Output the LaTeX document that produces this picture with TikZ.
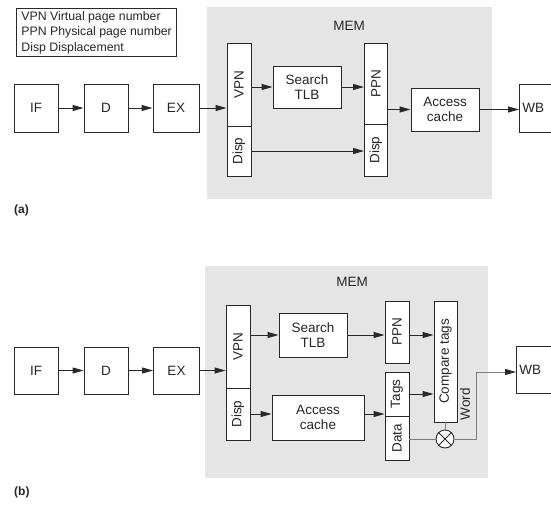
\documentclass[tikz,border=0pt]{standalone}
\usepackage{fontspec}
\setmainfont{Liberation Sans}
\usetikzlibrary{arrows.meta}
\definecolor{memgray}{RGB}{229,229,229}
\definecolor{linecol}{RGB}{40,40,40}
\definecolor{wordgray}{RGB}{125,125,125}
\begin{document}
\begin{tikzpicture}[x=1pt,y=-1pt,
  box/.style={draw=linecol, fill=white, line width=0.9pt, inner sep=0pt,
    font=\fontsize{13.5}{15.5}\selectfont, align=center, text=black!85},
  sz/.style 2 args={minimum width=#1pt, minimum height=#2pt},
  membg/.style={fill=memgray, draw=none, inner sep=0pt},
  memlbl/.style={font=\fontsize{13.5}{15.5}\selectfont, text=black!85},
  arr/.style={draw=linecol, line width=0.9pt, -{Triangle[length=11pt,width=6pt]}},
  grayline/.style={draw=wordgray, line width=0.9pt},
  grayarr/.style={draw=wordgray, line width=0.9pt, -{Triangle[length=11pt,width=6pt,color=linecol]}},
  partlbl/.style={font=\fontsize{12}{14}\selectfont\bfseries, anchor=west, inner sep=0pt, text=black!85},
]
\useasboundingbox (0,0) rectangle (551,506);
\clip (0,0) rectangle (551,506);

% legend
\node[draw=linecol, line width=0.8pt, anchor=north west, align=left, minimum width=159pt,
  inner xsep=5pt, inner ysep=3pt, font=\fontsize{12.3}{15.5}\selectfont, text=black!85]
  (legend) at (16,8) {VPN Virtual page number\\PPN Physical page number\\Disp Displacement};

% ---------------- (a) ----------------
\node[membg, minimum width=285pt, minimum height=192pt] (mema) at (349.5,103) {};
\node[memlbl] (memlbla) at (349,26) {MEM};

\node[box, sz={44}{48}] (IFa) at (36,108) {IF};
\node[box, sz={44}{48}] (Da) at (106,108) {D};
\node[box, sz={46}{48}] (EXa) at (176,108) {EX};
\node[box, sz={24}{83}] (VPNa) at (239,84.5) {\rotatebox{90}{VPN}};
\node[box, sz={24}{50}] (Dispa) at (239,151) {\rotatebox{90}{Disp}};
\node[box, sz={68}{42}] (TLBa) at (307,87) {Search\\TLB};
\node[box, sz={23}{81}] (PPNa) at (376,83.5) {\rotatebox{90}{PPN}};
\node[box, sz={23}{52}] (Disp2a) at (376,150) {\rotatebox{90}{Disp}};
\node[box, sz={68}{43}] (ACa) at (445,109.5) {Access\\cache};
\node[box, anchor=west, minimum height=48pt, text width=40pt, inner xsep=3pt, align=left] (WBa) at (519,108) {WB};

\draw[arr] (IFa) -- (Da);
\draw[arr] (Da) -- (EXa);
\draw[arr] (EXa.east) -- (EXa.east -| VPNa.west);
\draw[arr] (VPNa.east |- TLBa.west) -- (TLBa.west);
\draw[arr] (TLBa.east) -- (TLBa.east -| PPNa.west);
\draw[arr] (ACa.west -| PPNa.east) -- (ACa.west);
\draw[arr] (ACa.east) -- (ACa.east -| WBa.west);
\draw[arr] (Dispa.east) -- (Dispa.east -| Disp2a.west);

\node[partlbl] (la) at (14,210) {(a)};

% ---------------- (b) ----------------
\node[membg, minimum width=283pt, minimum height=212pt] (memb) at (346.5,372) {};
\node[memlbl] (memlblb) at (352,282) {MEM};

\node[box, sz={44}{47}] (IFb) at (36,370.5) {IF};
\node[box, sz={44}{47}] (Db) at (106,370.5) {D};
\node[box, sz={46}{47}] (EXb) at (176.5,370.5) {EX};
\node[box, sz={24}{83}] (VPNb) at (238,346.5) {\rotatebox{90}{VPN}};
\node[box, sz={24}{52}] (Dispb) at (238,414) {\rotatebox{90}{Disp}};
\node[box, sz={68}{44}] (TLBb) at (313,335) {Search\\TLB};
\node[box, sz={24}{62}] (PPNb) at (397,332) {\rotatebox{90}{PPN}};
\node[box, sz={23}{121}] (CTb) at (445.5,361.5) {\rotatebox{90}{Compare tags}};
\node[box, sz={24}{44}] (Tagsb) at (397,394) {\rotatebox{90}{Tags}};
\node[box, sz={24}{44}] (Datab) at (397,438) {\rotatebox{90}{Data}};
\node[box, sz={92}{45}] (ACb) at (318,417.5) {Access\\cache};
\node[box, circle, minimum size=18pt] (mult) at (445,439) {};
\node[box, anchor=west, minimum height=47pt, text width=40pt, inner xsep=3pt, align=left] (WBb) at (516,369.5) {WB};
\node[memlbl, inner sep=0pt] (wordlbl) at (465,404) {\rotatebox{90}{Word}};

\draw[linecol, line width=0.8pt] (mult.north west) -- (mult.south east);
\draw[linecol, line width=0.8pt] (mult.north east) -- (mult.south west);

\draw[arr] (IFb) -- (Db);
\draw[arr] (Db) -- (EXb);
\draw[arr] (EXb.east) -- (EXb.east -| VPNb.west);
\draw[arr] (VPNb.east |- TLBb.west) -- (TLBb.west);
\draw[arr] (TLBb.east) -- (TLBb.east -| PPNb.west);
\draw[arr] (PPNb.east |- TLBb.east) -- (TLBb.east -| CTb.west);
\draw[arr] (Tagsb.east) -- (Tagsb.east -| CTb.west);
\draw[arr] (Dispb.east) -- (Dispb.east -| ACb.west);
\draw[arr] (ACb.east |- Dispb.east) -- (Dispb.east -| Tagsb.west);
\draw[grayline] (Datab.east |- mult.west) -- (mult.west);
\draw[grayline] (CTb.south -| mult.north) -- (mult.north);
\coordinate (wc) at (476,372);
\draw[grayarr] (mult.east) -| (wc) -- (wc -| WBb.west);

\node[partlbl] (lb) at (14,492) {(b)};
\end{tikzpicture}
\end{document}
